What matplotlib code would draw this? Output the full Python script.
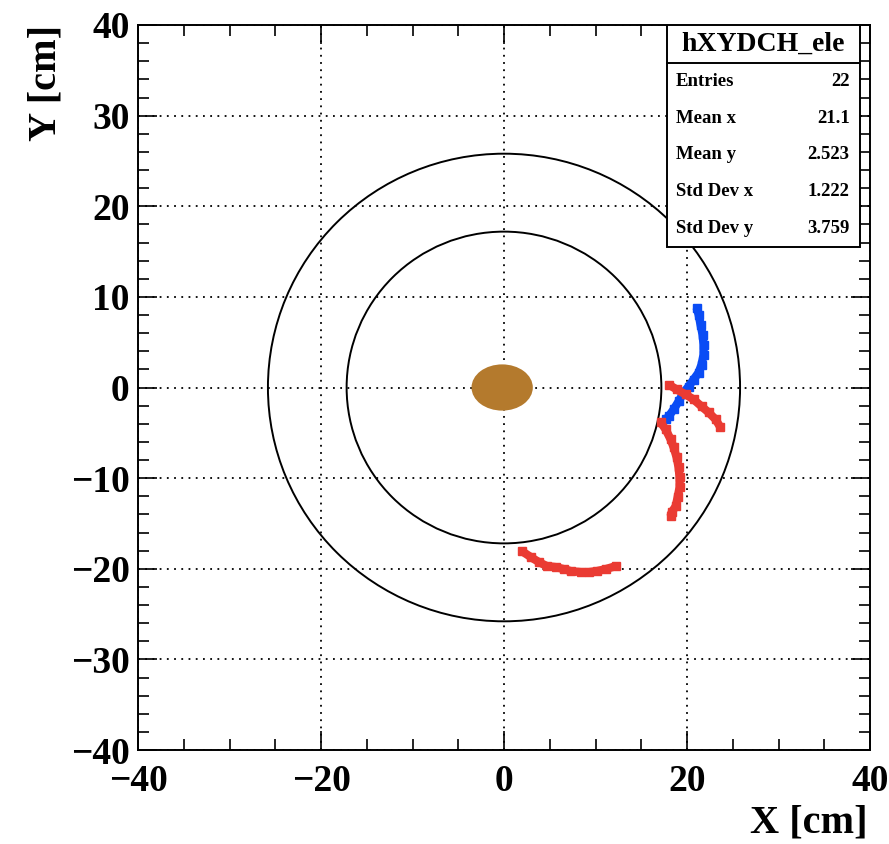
import matplotlib
matplotlib.use("Agg")
import matplotlib.pyplot as plt
from matplotlib.patches import Circle, Ellipse, Rectangle
from matplotlib.ticker import MultipleLocator

# hits, in cm
blue_x = [21.05, 21.27, 21.48, 21.70, 21.81, 21.81, 21.59, 21.27, 20.72, 20.17, 19.63, 19.08, 18.54, 17.99, 17.67]
blue_y = [8.81, 8.04, 6.94, 5.84, 4.74, 3.63, 2.53, 1.65, 0.88, 0.11, -0.55, -1.54, -2.42, -3.19, -3.52]

red1_x = [17.99, 18.87, 19.85, 20.72, 21.59, 22.36, 23.12, 23.66]
red1_y = [0.33, -0.22, -0.77, -1.32, -2.09, -2.75, -3.52, -4.41]

red2_x = [17.12, 17.67, 18.21, 18.54, 18.87, 19.08, 19.19, 19.19, 18.98, 18.76, 18.32, 18.21]
red2_y = [-3.85, -4.63, -5.73, -6.61, -7.71, -8.81, -9.91, -11.01, -12.11, -13.11, -13.77, -14.21]

red3_x = [1.96, 2.94, 3.82, 4.69, 5.67, 6.54, 7.31, 8.40, 9.27, 10.14, 11.12, 12.21]
red3_y = [-18.06, -18.72, -19.27, -19.71, -19.82, -20.04, -20.26, -20.37, -20.37, -20.26, -20.04, -19.71]

# detector rings and beam pipe
ring_radii = [17.2, 25.8]
pipe_w, pipe_h = 6.7, 5.1

stat_names = ["Entries", "Mean x", "Mean y", "Std Dev x", "Std Dev y"]
stat_values = ["22", "21.1", "2.523", "1.222", "3.759"]
hist_name = "hXYDCH_ele"

FONT = "Liberation Serif"
BLUE = "#0a4cf5"
RED = "#ea3b33"

fig = plt.figure(figsize=(8.89, 8.44), dpi=100)
ax = fig.add_axes([138 / 889, 94 / 844, 732 / 889, 725 / 844])

ax.set_xlim(-40, 40)
ax.set_ylim(-40, 40)

# grid
ax.xaxis.set_major_locator(MultipleLocator(20))
ax.xaxis.set_minor_locator(MultipleLocator(5))
ax.yaxis.set_major_locator(MultipleLocator(10))
ax.yaxis.set_minor_locator(MultipleLocator(2))
ax.grid(True, which="major", color="black", linestyle=(0, (1, 3)), linewidth=1.3)
ax.set_axisbelow(True)

for r in ring_radii:
    ax.add_patch(Circle((0, 0), r, fill=False, edgecolor="black", linewidth=1.4, zorder=2))

ax.add_patch(Ellipse((-0.2, 0), pipe_w, pipe_h, facecolor="#b47a2d", edgecolor="none", zorder=3))

for xs, ys, c in [(blue_x, blue_y, BLUE), (red1_x, red1_y, RED),
                  (red2_x, red2_y, RED), (red3_x, red3_y, RED)]:
    ax.plot(xs, ys, color=c, linewidth=6, marker="s", markersize=6,
            solid_capstyle="butt", zorder=4)

# ticks, ROOT style
ax.tick_params(which="both", direction="in", top=True, right=True, width=1.2)
ax.tick_params(which="major", length=14)
ax.tick_params(which="minor", length=8)
ax.tick_params(axis="x", which="major", pad=10)
ax.tick_params(axis="y", which="major", pad=6)
for lab in ax.get_xticklabels() + ax.get_yticklabels():
    lab.set_fontfamily(FONT)
    lab.set_fontweight("bold")
    lab.set_fontsize(27)
for s in ax.spines.values():
    s.set_linewidth(1.4)

ax.set_xlabel("X [cm]", fontfamily=FONT, fontweight="bold", fontsize=29)
ax.xaxis.set_label_coords(0.997, -0.075)
ax.xaxis.label.set_horizontalalignment("right")
ax.set_ylabel("Y [cm]", fontfamily=FONT, fontweight="bold", fontsize=29)
ax.yaxis.set_label_coords(-0.1, 1.0)
ax.yaxis.label.set_horizontalalignment("right")

# stats box
bx0, bx1 = 0.7227, 0.9863
by0, by1 = 0.6938, 1.0
sep = 0.9476
ax.add_patch(Rectangle((bx0, by0), bx1 - bx0, by1 - by0, transform=ax.transAxes,
                       facecolor="white", edgecolor="black", linewidth=1.4, zorder=6))
ax.plot([bx0, bx1], [sep, sep], transform=ax.transAxes, color="black", linewidth=1.4, zorder=7)
ax.text((bx0 + bx1) / 2, (sep + by1) / 2, hist_name, transform=ax.transAxes,
        ha="center", va="center", fontfamily=FONT, fontweight="bold", fontsize=20, zorder=8)
row_h = (sep - by0) / len(stat_names)
for i, (n, v) in enumerate(zip(stat_names, stat_values)):
    yy = sep - row_h * (i + 0.5)
    ax.text(bx0 + 0.012, yy, n, transform=ax.transAxes, ha="left", va="center",
            fontfamily=FONT, fontweight="bold", fontsize=13.5, zorder=8)
    ax.text(bx1 - 0.014, yy, v, transform=ax.transAxes, ha="right", va="center",
            fontfamily=FONT, fontweight="bold", fontsize=13.5, zorder=8)

fig.savefig("out.png", dpi=100)
